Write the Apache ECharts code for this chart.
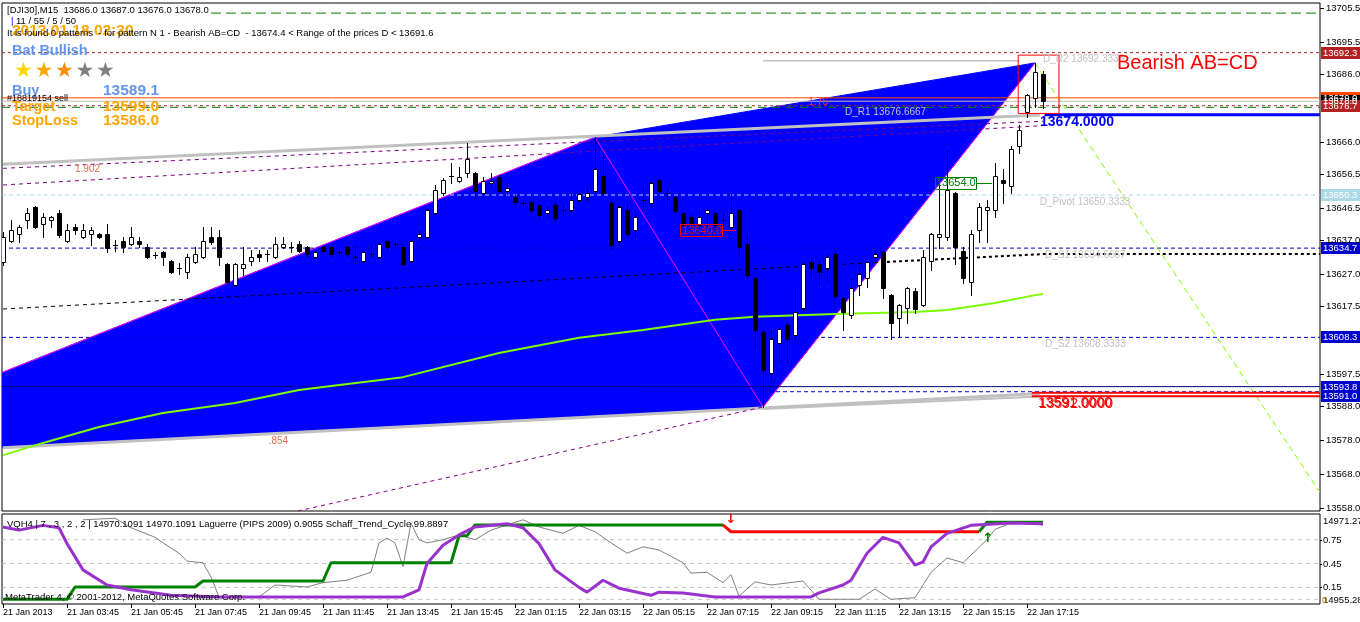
<!DOCTYPE html>
<html>
<head>
<meta charset="utf-8">
<script src="https://cdn.jsdelivr.net/npm/echarts@6.0.0/dist/echarts.min.js"></script>
<style>
html,body{margin:0;padding:0;background:#fff;}
#chart{width:1360px;height:622px;}
</style>
</head>
<body>
<div id="chart"></div>
<script>
// ---------------- DATA ----------------
const opens = [13630.6,13636.8,13638.8,13642.9,13646.8,13641.8,13642.9,13645.0,13636.8,13640.9,
13637.9,13638.8,13638.8,13638.8,13635.6,13636.8,13635.9,13636.8,13635.0,13632.6,
13633.5,13630.9,13628.8,13627.6,13630.6,13632.0,13637.9,13637.9,13630.0,13623.8,
13628.8,13630.9,13632.9,13632.9,13632.0,13635.0,13635.0,13635.9,13635.0,13632.0,
13635.0,13635.0,13633.5,13635.0,13632.0,13630.9,13632.9,13632.0,13636.8,13635.9,
13635.0,13630.9,13637.9,13637.9,13645.0,13650.9,13655.9,13654.4,13656.8,13656.8,
13650.9,13653.9,13655.6,13651.5,13649.7,13648.0,13648.3,13647.4,13645.0,13647.4,
13645.9,13645.9,13648.9,13649.7,13651.5,13655.9,13648.0,13636.8,13645.9,13640.0,
13648.9,13648.0,13654.8,13650.9,13649.7,13645.0,13643.9,13641.5,13645.0,13645.0,
13643.0,13640.9,13645.9,13635.9,13625.8,13609.9,13597.8,13606.7,13612.0,13609.0,
13617.0,13630.6,13630.0,13628.8,13632.9,13620.0,13614.9,13623.8,13625.8,13632.0,
13633.5,13620.8,13614.1,13617.0,13622.0,13617.9,13630.9,13637.9,13637.9,13650.9,
13633.8,13624.7,13640.0,13645.9,13645.9,13654.8,13653.0,13664.8,13674.8,13678.9,
13686.0];
const closes = [13637.9,13640.0,13640.9,13645.0,13640.9,13643.9,13643.9,13638.5,13640.0,13640.0,
13640.0,13640.0,13637.9,13634.7,13635.5,13635.0,13637.9,13635.9,13632.0,13632.6,
13632.0,13627.6,13628.8,13632.0,13632.9,13636.8,13636.5,13632.0,13624.7,13630.0,
13630.0,13632.0,13632.0,13632.9,13635.9,13635.9,13635.0,13633.8,13632.9,13633.5,
13633.8,13632.9,13633.5,13632.9,13632.0,13633.5,13632.9,13635.9,13635.0,13635.9,
13630.0,13636.8,13638.8,13645.9,13651.8,13654.8,13655.9,13655.6,13660.9,13651.5,
13654.5,13654.5,13651.5,13652.4,13648.3,13648.0,13645.9,13644.4,13645.9,13643.5,
13645.9,13648.9,13650.6,13650.9,13658.0,13650.9,13635.6,13646.8,13638.8,13643.9,
13648.9,13653.9,13651.5,13650.9,13645.6,13641.5,13641.8,13643.9,13645.9,13641.5,
13643.0,13645.0,13635.0,13626.7,13610.5,13598.7,13607.9,13610.8,13607.9,13615.8,
13630.0,13628.8,13627.6,13632.0,13620.5,13615.8,13622.9,13627.0,13630.6,13632.9,
13622.9,13612.6,13617.9,13622.9,13616.7,13632.0,13638.8,13638.8,13651.8,13635.0,
13625.8,13638.8,13646.8,13646.8,13655.9,13653.9,13663.9,13669.5,13679.8,13686.6,
13678.0];
const lows = [13629.7,13636.5,13636.5,13640.6,13640.6,13637.9,13640.9,13637.9,13636.5,13638.8,
13637.7,13635.6,13637.7,13633.5,13633.8,13633.5,13635.6,13635.0,13631.7,13631.7,
13629.7,13627.3,13627.0,13625.8,13630.3,13631.7,13635.9,13629.7,13624.4,13623.5,
13626.7,13629.7,13630.9,13630.9,13631.7,13634.7,13633.5,13633.5,13632.0,13631.7,
13633.5,13632.0,13632.6,13632.0,13630.9,13630.6,13632.0,13631.7,13633.8,13635.0,
13629.7,13630.6,13636.8,13637.7,13644.7,13650.3,13653.9,13654.1,13655.6,13649.7,
13649.7,13652.7,13651.0,13650.6,13647.7,13647.1,13645.3,13643.5,13644.1,13642.9,
13644.4,13645.3,13648.6,13648.9,13651.2,13650.6,13634.7,13635.6,13637.9,13637.9,
13646.5,13646.8,13651.2,13646.8,13645.3,13641.2,13641.2,13640.0,13640.9,13641.2,
13641.2,13640.6,13632.6,13625.8,13604.6,13587.8,13595.8,13601.6,13600.8,13607.6,
13616.4,13625.8,13623.8,13625.3,13620.0,13610.5,13614.1,13620.8,13623.2,13631.7,
13620.0,13607.9,13608.7,13612.6,13615.5,13617.6,13628.2,13634.7,13637.1,13630.0,
13624.4,13620.8,13636.5,13636.5,13643.9,13648.0,13650.9,13662.7,13673.4,13676.3,
13676.0];
const highs = [13639.4,13642.9,13641.5,13646.5,13647.1,13645.0,13644.1,13645.9,13641.8,13641.8,
13641.8,13640.9,13639.1,13641.8,13637.1,13637.9,13640.9,13637.9,13635.9,13633.5,
13633.8,13631.2,13630.3,13632.9,13635.0,13640.9,13640.9,13640.0,13630.3,13630.3,
13635.0,13634.1,13634.1,13634.1,13637.9,13637.9,13636.5,13636.8,13635.3,13633.8,
13635.6,13635.3,13634.4,13635.3,13635.0,13633.8,13635.9,13636.2,13637.1,13636.8,
13635.9,13637.1,13640.0,13646.2,13653.3,13655.4,13659.8,13658.6,13665.7,13657.1,
13655.6,13656.8,13656.2,13653.3,13650.3,13648.9,13648.9,13647.7,13647.1,13648.0,
13647.4,13650.6,13651.2,13652.7,13667.4,13662.1,13648.6,13647.1,13648.0,13644.7,
13653.3,13654.2,13655.1,13652.4,13650.0,13645.3,13644.4,13645.9,13646.5,13645.3,
13645.0,13650.9,13646.2,13639.1,13626.1,13610.5,13610.5,13611.1,13612.6,13622.9,
13630.3,13632.0,13631.2,13632.6,13634.1,13620.3,13625.8,13629.1,13630.9,13634.1,
13634.1,13621.1,13618.2,13623.2,13622.9,13634.1,13639.1,13654.0,13663.6,13651.2,
13635.0,13640.0,13648.0,13648.9,13659.8,13658.0,13664.8,13671.0,13680.1,13689.3,
13687.0];

const xTickLabels = ['21 Jan 2013','21 Jan 03:45','21 Jan 05:45','21 Jan 07:45','21 Jan 09:45','21 Jan 11:45',
  '21 Jan 13:45','21 Jan 15:45','22 Jan 01:15','22 Jan 03:15','22 Jan 05:15','22 Jan 07:15','22 Jan 09:15',
  '22 Jan 11:15','22 Jan 13:15','22 Jan 15:15','22 Jan 17:15'];
const xTickBars = [0,8,16,24,32,40,48,56,64,72,80,88,96,104,112,120,128];
const yTickLabels = ['13705.5','13695.5','13686.0','13666.0','13656.5','13646.5','13637.0','13627.0',
  '13617.5','13597.5','13588.0','13578.0','13568.0','13558.0'];

const pivotNames = ['D_R2','D_R1','D_Pivot','D_S1','D_S2'];
const pivotLevels = [13692.3333, 13676.6667, 13650.3333, 13634.6667, 13608.3333];

// pattern points (bar, price)
const patternBars = [-27.2, 74, 95, 129];
const patternPrices = [13572.6, 13667.4, 13587.8, 13689.3];

const maLine = [[0,13573.6],[5,13577.2],[12,13581.9],[20,13586.0],[29,13589.0],[37,13592.8],[40,13593.7],
  [50,13596.6],[62,13603.7],[72,13608.2],[80,13610.5],[89,13613.5],[94,13614.4],[104,13615.2],[114,13615.8],
  [118,13616.4],[124,13618.5],[129,13620.8],[130,13621.1]];
const channelUpper = [[0,13659.4],[129.6,13673.9]];
const channelLower = [[0,13575.8],[129.6,13591.8]];
const channelLower2 = [[95,13587.2],[129.6,13590.9]];
const fibLine1 = [[0,13658.2],[130,13672.1]];
const fibLine2 = [[0,13653.3],[130,13670.8]];
const fibLine3 = [[30,13553.5],[95,13587.8]];
const trendThin = [[0,13616.7],[110.5,13630.6]];
const trendThick = [[110.5,13630.6],[130,13632.9],[164.6,13632.9]];
const projection = [[129,13689.3],[164.6,13562.7]];
const topGrayLine = [[95,13689.9],[127,13689.9]];
const targetBox = [[126.9,13674.4],[126.9,13691.6],[132,13691.6],[132,13674.4],[126.9,13674.4]];

const orderPrice = 13679.0, bidPrice = 13678.0, greenTop = 13704.0, greenR1 = 13676.2;
const navyLevel = 13593.8, blueDash2 = 13592.3, dLevel = 13674.0, redLevels = [13592.0, 13591.0];

// indicator (bar, value 0..1)
const laguerre = [[0,0.91],[2,0.87],[5,0.93],[7,0.90],[8,0.70],[10,0.37],[13,0.18],[16,0.12],[21,0.05],[27,0.03],
  [50,0.03],[52,0.12],[53,0.45],[55,0.68],[57,0.81],[59,0.91],[63,0.95],[65,0.90],[67,0.70],[69,0.37],[72,0.15],
  [73,0.09],[75,0.24],[77,0.14],[81,0.05],[82,0.09],[85,0.08],[89,0.03],[101,0.03],[102,0.08],[105,0.18],[106,0.24],
  [108,0.58],[110,0.78],[112,0.71],[114,0.43],[115,0.47],[116,0.66],[118,0.83],[121,0.93],[126,0.96],[130,0.95]];
const stcGreen = [[0,0.0],[8,0.0],[9,0.155],[24,0.155],[25,0.23],[40,0.23],[41,0.46],[56,0.46],[57,0.80],
  [58,0.80],[59,0.935],[90,0.935]];
const stcRed = [[90,0.935],[91,0.85],[122,0.85]];
const stcGreen2 = [[122,0.85],[123,0.97],[130,0.97]];
const vqhLine = [[10,1.0],[14,1.02],[16,0.90],[19,0.78],[20,0.71],[22,0.58],[23,0.48],[25,0.46],[26,0.28],[27,0.03],
  [32,0.03],[34,0.18],[38,0.155],[40,0.21],[43,0.24],[46,0.34],[47,0.71],[48,0.77],[49,0.71],[50,0.41],[51,0.96],
  [52,0.75],[53,0.71],[55,0.75],[57,0.81],[59,0.75],[61,0.87],[65,1.0],[67,0.91],[70,0.83],[72,0.93],[74,0.85],
  [76,0.71],[78,0.58],[80,0.66],[82,0.62],[85,0.46],[86,0.33],[88,0.34],[90,0.21],[91,0.31],[92,0.04],[94,0.22],
  [96,0.18],[100,0.23],[102,0.0],[107,0.0],[109,0.13],[111,0.0],[114,0.02],[116,0.34],[118,0.52],[120,0.46],
  [123,0.75],[124,0.88],[126,0.96],[128,0.98],[130,0.93]];
const indLevels = [0.75, 0.45, 0.15, 0.0];

// ---------------- CHART ----------------
const FONT = 'Liberation Sans';
const XMIN = -0.125, XMAX = XMIN + 1318 / 8;
const YMIN = 13557.115, YMAX = 13706.975;
const IMIN = -0.059, IMAX = 1.073;

const chart = echarts.init(document.getElementById('chart'), null, {renderer: 'canvas'});

function L(data, color, width, type, extra) {
  return Object.assign({
    type: 'line', data: data, symbol: 'none', silent: true, animation: false,
    xAxisIndex: 0, yAxisIndex: 0, z: 3,
    lineStyle: {color: color, width: width, type: type || 'solid'}
  }, extra || {});
}
function H(p, x0, x1, color, width, type, extra) {
  return L([[x0, p], [x1, p]], color, width, type, extra);
}

const candleData = opens.map((o, i) => [i, o, closes[i], lows[i], highs[i]]);
const pts = patternBars.map((b, k) => [b, patternPrices[k]]);
const triangles = [
  [pts[0][0], pts[0][1], pts[1][0], pts[1][1], pts[2][0], pts[2][1]],
  [pts[1][0], pts[1][1], pts[3][0], pts[3][1], pts[2][0], pts[2][1]]
];

const series = [];
series.push({
  type: 'custom', xAxisIndex: 0, yAxisIndex: 0, data: triangles, clip: true, silent: true, z: 1,
  encode: {x: [0, 2, 4], y: [1, 3, 5]},
  renderItem: function (params, api) {
    const a = api.coord([api.value(0), api.value(1)]);
    const b = api.coord([api.value(2), api.value(3)]);
    const c = api.coord([api.value(4), api.value(5)]);
    return {type: 'polygon', shape: {points: [a, b, c]}, style: {fill: '#0000FF', stroke: '#0000FF', lineWidth: 1}};
  }
});
// full width levels
series.push(H(greenTop, 26, XMAX, '#008000', 1, [10, 5]));
series.push(H(pivotLevels[0], XMIN, XMAX, '#A52A2A', 1, [3, 3]));
series.push(H(orderPrice, XMIN, XMAX, '#FF4500', 1));
series.push(H(bidPrice, XMIN, XMAX, '#C0C0C0', 1));
series.push(H(pivotLevels[1], XMIN, XMAX, '#A52A2A', 1, [3, 3]));
series.push(H(greenR1, XMIN, XMAX, '#008000', 1, [8, 6]));
series.push(H(pivotLevels[2], XMIN, XMAX, '#ADD8E6', 1, [4, 3]));
series.push(H(pivotLevels[3], XMIN, XMAX, '#0000CD', 1, [4, 3]));
series.push(H(pivotLevels[4], XMIN, XMAX, '#0000CD', 1, [4, 3]));
series.push(H(navyLevel, XMIN, XMAX, '#000080', 1));
series.push(H(blueDash2, 80, XMAX, '#0000CD', 1, [4, 3]));
series.push(H(dLevel, 130.2, XMAX, '#0000FF', 3, 'solid', {z: 6}));
series.push(H(redLevels[0], 128.6, XMAX, '#FF0000', 2, 'solid', {z: 6}));
series.push(H(redLevels[1], 128.6, XMAX, '#FF0000', 2, 'solid', {z: 6}));
// trend / channel lines
series.push(L(channelUpper, '#C0C0C0', 3));
series.push(L(channelLower, '#C0C0C0', 3));
series.push(L(channelLower2, '#C0C0C0', 2));
series.push(L(topGrayLine, '#A0A0A0', 1));
series.push(L(fibLine1, '#800080', 1, [4, 4]));
series.push(L(fibLine2, '#800080', 1, [4, 4]));
series.push(L(fibLine3, '#800080', 1, [4, 4]));
series.push(L(trendThin, '#000000', 1, [4, 4]));
series.push(L(trendThick, '#000000', 2, [3, 3]));
series.push(L(projection, '#7CFC00', 1, [6, 4]));
series.push(L(pts, '#FF00FF', 1, 'solid', {z: 2}));
series.push(L(maLine, '#7CFC00', 2, 'solid', {z: 4}));
series.push(L(targetBox, '#FF0000', 1, 'solid', {z: 7}));
// candles
series.push({
  type: 'custom', xAxisIndex: 0, yAxisIndex: 0, data: candleData, clip: true, silent: true, z: 5,
  encode: {x: 0, y: [1, 2, 3, 4]},
  renderItem: function (params, api) {
    const i = api.value(0), o = api.value(1), c = api.value(2), l = api.value(3), h = api.value(4);
    const po = api.coord([i, o]), pc = api.coord([i, c]), pl = api.coord([i, l]), ph = api.coord([i, h]);
    const cx = Math.floor(po[0]);
    const top = Math.round(Math.min(po[1], pc[1]));
    const bot = Math.round(Math.max(po[1], pc[1]));
    const ch = [{type: 'line', shape: {x1: cx + 0.5, y1: Math.round(ph[1]), x2: cx + 0.5, y2: Math.round(pl[1]) + 1},
      style: {stroke: '#000', lineWidth: 1}}];
    if (bot - top < 1) {
      ch.push({type: 'line', shape: {x1: cx - 2, y1: top + 0.5, x2: cx + 3, y2: top + 0.5}, style: {stroke: '#000', lineWidth: 1}});
    } else {
      ch.push({type: 'rect', shape: {x: cx - 1.5, y: top + 0.5, width: 4, height: bot - top},
        style: {fill: c >= o ? '#FFFFFF' : '#000000', stroke: '#000', lineWidth: 1}});
    }
    return {type: 'group', children: ch};
  }
});
// indicator
indLevels.forEach(v => series.push(H(v, XMIN, XMAX, '#C0C0C0', 1, [4, 4], {xAxisIndex: 1, yAxisIndex: 1})));
series.push(L(vqhLine, '#808080', 1, 'solid', {xAxisIndex: 1, yAxisIndex: 1, z: 3}));
series.push(L(stcGreen, '#008000', 3, 'solid', {xAxisIndex: 1, yAxisIndex: 1, z: 4}));
series.push(L(stcRed, '#FF0000', 3, 'solid', {xAxisIndex: 1, yAxisIndex: 1, z: 4}));
series.push(L(stcGreen2, '#008000', 3, 'solid', {xAxisIndex: 1, yAxisIndex: 1, z: 4}));
series.push(L(laguerre, '#9932CC', 3, 'solid', {xAxisIndex: 1, yAxisIndex: 1, z: 5}));

chart.setOption({
  animation: false,
  backgroundColor: '#FFFFFF',
  grid: [
    {left: 2, top: 3, width: 1318, height: 508, show: true, borderColor: '#000', borderWidth: 1, backgroundColor: '#FFF'},
    {left: 2, top: 514, width: 1318, height: 90, show: true, borderColor: '#000', borderWidth: 1, backgroundColor: '#FFF'}
  ],
  xAxis: [
    {type: 'value', gridIndex: 0, min: XMIN, max: XMAX, show: false},
    {type: 'value', gridIndex: 1, min: XMIN, max: XMAX, show: false}
  ],
  yAxis: [
    {type: 'value', gridIndex: 0, min: YMIN, max: YMAX, show: false},
    {type: 'value', gridIndex: 1, min: IMIN, max: IMAX, show: false}
  ],
  series: series
});

// ---------------- TEXT / AXIS GRAPHICS ----------------
const P = (x, y) => chart.convertToPixel({xAxisIndex: 0, yAxisIndex: 0}, [x, y]);
const PI = (x, y) => chart.convertToPixel({xAxisIndex: 1, yAxisIndex: 1}, [x, y]);
const els = [];
function T(x, y, text, o) {
  const st = Object.assign({text: text, fill: '#000', fontSize: 10, fontFamily: FONT,
    align: 'left', verticalAlign: 'middle', textAlign: 'left', textVerticalAlign: 'middle'}, o || {});
  els.push({type: 'text', x: x, y: y, silent: true, z: 100, style: st});
}
function R(x, y, w, h, fill, stroke) {
  els.push({type: 'rect', silent: true, z: 99, shape: {x: x, y: y, width: w, height: h},
    style: {fill: fill || 'none', stroke: stroke || 'none', lineWidth: 1}});
}
function LN(x1, y1, x2, y2, color, w) {
  els.push({type: 'line', silent: true, z: 99, shape: {x1: x1, y1: y1, x2: x2, y2: y2}, style: {stroke: color, lineWidth: w || 1}});
}

// right price axis ticks
yTickLabels.forEach(t => {
  const y = Math.round(P(0, parseFloat(t))[1]) + 0.5;
  LN(1320, y, 1324, y, '#000');
  T(1326, y, t, {fontSize: 9.5});
});
// right coloured labels
function RL(price, text, bg, fg) {
  const y = Math.round(P(0, price)[1]);
  R(1321, y - 6, 39, 12, bg);
  T(1323, y, text, {fill: fg || '#FFF', fontSize: 9.5});
}
RL(pivotLevels[0], '13692.3', '#B22222');
RL(orderPrice, '13679.0', '#FF4500');
RL(bidPrice, '13678.0', '#000000');
RL(pivotLevels[1], '13676.7', '#B22222');
RL(pivotLevels[2], '13650.3', '#ADD8E6');
RL(pivotLevels[3], '13634.7', '#0000CD');
RL(pivotLevels[4], '13608.3', '#0000CD');
RL(redLevels[1], '13591.0', '#0000CD');
RL(navyLevel, '13593.8', '#0000CD');

// x axis labels
xTickBars.forEach((b, k) => {
  const x = Math.round(PI(b, 0)[0]) + 0.5;
  LN(x, 604, x, 608, '#000');
  T(x - 0.5, 613, xTickLabels[k], {fontSize: 9});
});

// indicator right labels
T(1323, 521, '14971.27', {fontSize: 9.5});
[0.75, 0.45, 0.15].forEach(v => {
  const y = Math.round(PI(0, v)[1]) + 0.5;
  LN(1320, y, 1322, y, '#000');
  T(1323, y, v.toFixed(2), {fontSize: 9.5});
});
T(1323, 600, '14955.28', {fontSize: 9.5});
T(1322, 600, '0', {fontSize: 9.5, fill: '#B8860B'});

// pivot texts
const pivotTextBars = [130, 105.25, 129.6, 130.25, 130.25];
pivotNames.forEach((n, k) => {
  const p = P(pivotTextBars[k], pivotLevels[k]);
  T(p[0], p[1] + 7, n + ' ' + pivotLevels[k].toFixed(4), {fill: '#C0C0C0', fontSize: 10});
});

// pattern labels
(function () {
  let p = P(87.4, 13640.0);
  R(Math.round(p[0]) - 21.5, Math.round(p[1]) - 5.5, 42, 12, 'none', '#FF0000');
  LN(Math.round(p[0]) + 21, Math.round(p[1]) + 0.5, Math.round(p[0]) + 34, Math.round(p[1]) + 0.5, '#FF0000');
  T(p[0], p[1] + 0.5, '13640.0', {fill: '#FF0000', fontSize: 11, align: 'center', textAlign: 'center'});
  p = P(119.1, 13654.0);
  R(Math.round(p[0]) - 20.5, Math.round(p[1]) - 5.5, 41, 12, 'none', '#008000');
  LN(Math.round(p[0]) + 20, Math.round(p[1]) + 0.5, Math.round(p[0]) + 36, Math.round(p[1]) + 0.5, '#008000');
  T(p[0], p[1] + 0.5, '13654.0', {fill: '#008000', fontSize: 11, align: 'center', textAlign: 'center'});
  p = P(0, dLevel);
  T(1040, p[1] + 7, '13674.0000', {fill: '#0000FF', fontSize: 14, fontWeight: 'bold'});
  p = P(0, redLevels[0]);
  T(1038, p[1] + 10, '13591.0000', {fill: '#FF0000', fontSize: 14});
  T(1039, p[1] + 11, '13592.0000', {fill: '#FF0000', fontSize: 14});
  p = P(0, 13689.3);
  T(1117, p[1] + 1, 'Bearish AB=CD', {fill: '#FF0000', fontSize: 20});
  p = P(9.0, 13658.0);
  T(p[0], p[1], '1.902', {fill: '#E07050', fontSize: 10});
  p = P(33.2, 13577.7);
  T(p[0], p[1], '.854', {fill: '#E07050', fontSize: 10});
  p = P(100.7, 13677.8);
  T(p[0], p[1], '1.76', {fill: '#FF3030', fontSize: 10});
})();

// header texts
T(12, 31, '2013.01.18 02:30', {fill: '#FFA500', fontSize: 15.5, fontWeight: 'bold'});
T(7, 10, '[DJI30],M15  13686.0 13687.0 13676.0 13678.0', {fontSize: 9.5});
T(11, 21, '|', {fill: '#0000FF', fontSize: 9.5});
T(16, 21, '11 / 55 / 5 / 50', {fontSize: 9.5});
T(7, 33, 'It is found 0 patterns  - for pattern N 1 - Bearish AB=CD  - 13674.4 < Range of the prices D < 13691.6', {fontSize: 9.5});
T(12, 51, 'Bat Bullish', {fill: '#6495ED', fontSize: 14.5, fontWeight: 'bold'});
const starColors = ['#FFD700', '#FFA500', '#FF8C00', '#808080', '#808080'];
starColors.forEach((c, k) => T(14 + k * 20.5, 72, '\u2605', {fill: c, fontSize: 21, fontFamily: 'DejaVu Sans'}));
T(12, 91, 'Buy', {fill: '#6495ED', fontSize: 14.5, fontWeight: 'bold'});
T(103, 91, '13589.1', {fill: '#6495ED', fontSize: 15.5, fontWeight: 'bold'});
T(12, 107, 'Target', {fill: '#FFA500', fontSize: 14.5, fontWeight: 'bold'});
T(103, 107, '13599.0', {fill: '#FFA500', fontSize: 15.5, fontWeight: 'bold'});
T(7, 99, '#18819154 sell', {fontSize: 9});
T(12, 121, 'StopLoss', {fill: '#FFA500', fontSize: 14.5, fontWeight: 'bold'});
T(103, 121, '13586.0', {fill: '#FFA500', fontSize: 15.5, fontWeight: 'bold'});

// indicator texts
T(7, 524, 'VQH4 | 7 , 3 , 2 , 2 | 14970.1091 14970.1091 Laguerre (PIPS 2009) 0.9055 Schaff_Trend_Cycle 99.8897', {fontSize: 9.5});
T(5, 597, 'MetaTrader 4, \u00A9 2001-2012, MetaQuotes Software Corp.', {fontSize: 9.5});
T(731, 520, '\u2193', {fill: '#FF0000', fontSize: 13, fontWeight: 'bold', align: 'center', textAlign: 'center', fontFamily: 'DejaVu Sans'});
T(988, 539, '\u2191', {fill: '#008000', fontSize: 13, fontWeight: 'bold', align: 'center', textAlign: 'center', fontFamily: 'DejaVu Sans'});

chart.setOption({graphic: {elements: els}});
</script>
</body>
</html>
